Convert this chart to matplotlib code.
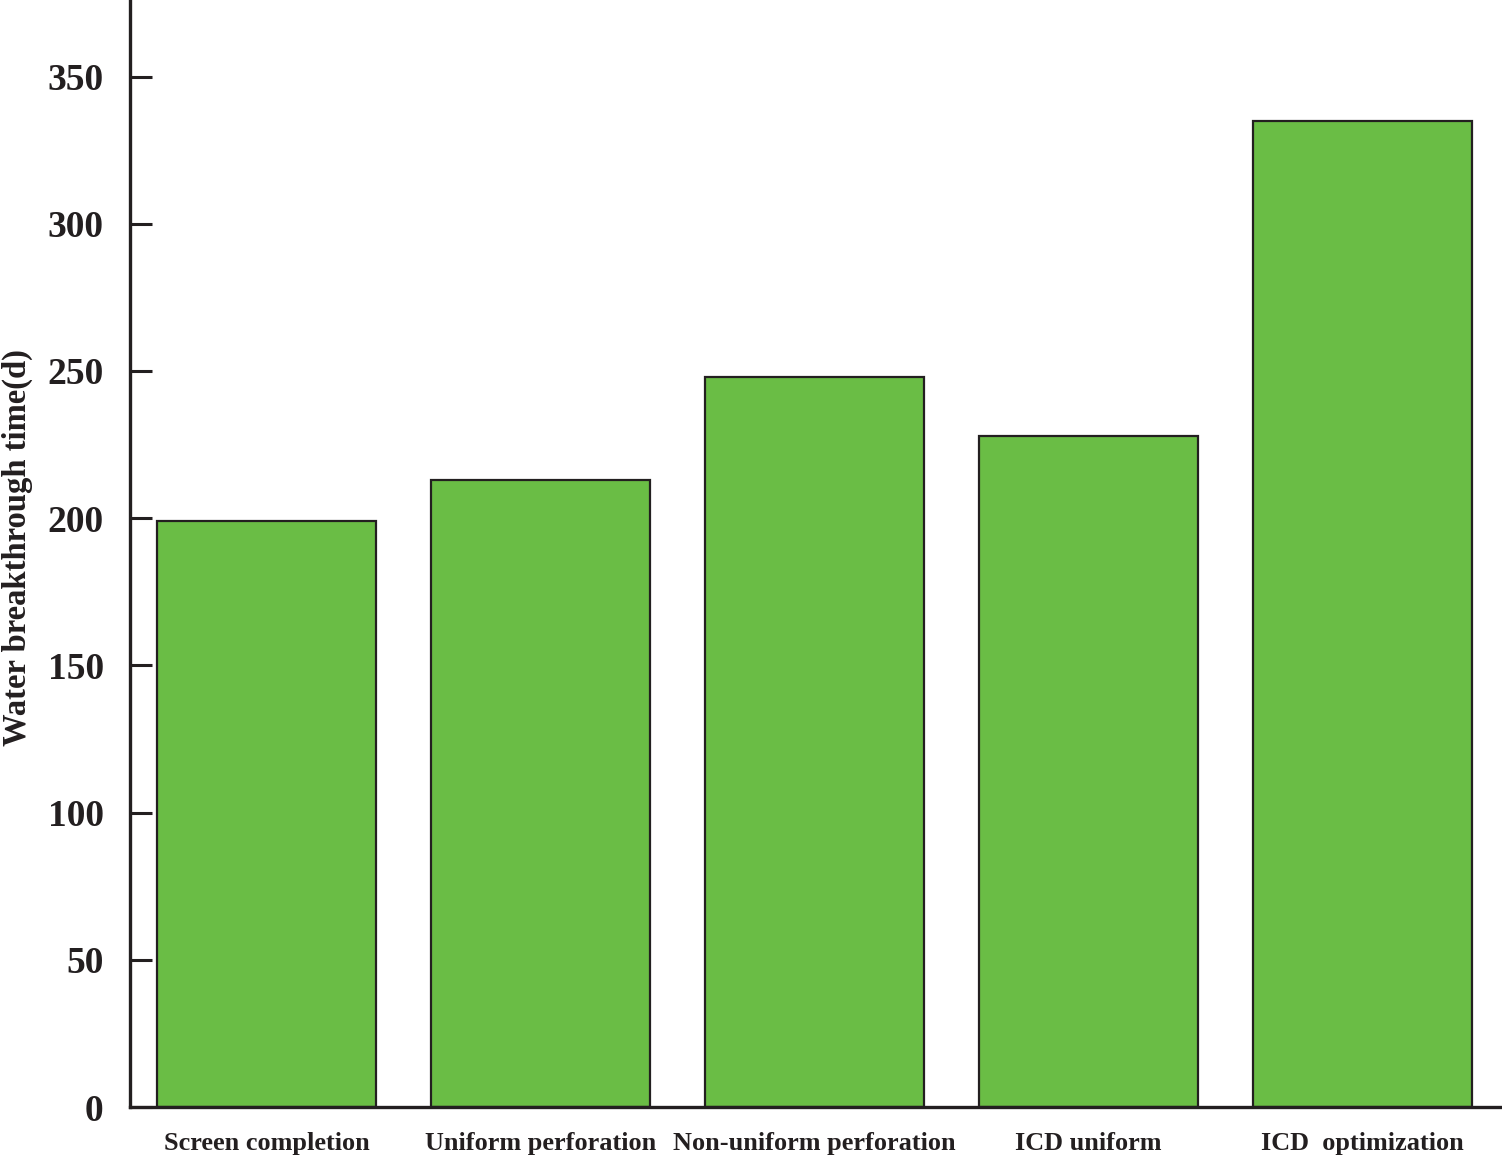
import matplotlib.pyplot as plt

plt.rcParams['font.family'] = 'Liberation Serif'
plt.rcParams['font.weight'] = 'bold'

categories = ['Screen completion', 'Uniform perforation', 'Non-uniform perforation',
              'ICD uniform', 'ICD  optimization']
breakthrough = [199, 213, 248, 228, 335]
yticks = [0, 50, 100, 150, 200, 250, 300, 350]

fig = plt.figure(figsize=(15.02, 11.57), dpi=100)
ax = fig.add_axes([0.0866, 0.0432, 0.9134, 0.9568])

x = range(len(categories))
ax.bar(x, breakthrough, width=0.8, color='#6abd45', edgecolor='#231f20', linewidth=1.6)

ax.set_xlim(-0.498, 4.508)
ax.set_ylim(0, 376)
ax.set_xticks(list(x))
ax.set_xticklabels(categories, fontsize=18.9, fontweight='bold')
ax.set_yticks(yticks)
ax.set_yticklabels([str(t) for t in yticks], fontsize=27, fontweight='bold')

ax.tick_params(axis='x', length=0, pad=18, colors='#231f20')
ax.tick_params(axis='y', direction='in', length=16, width=2.2, pad=19, colors='#231f20')

for s in ['top', 'right']:
    ax.spines[s].set_visible(False)
for s in ['left', 'bottom']:
    ax.spines[s].set_linewidth(2.4)
    ax.spines[s].set_color('#231f20')

ax.set_ylabel('Water breakthrough time(d)', fontsize=23.5, fontweight='bold', color='#231f20')
ax.yaxis.set_label_coords(-0.0705, 0.505)

plt.savefig('out.png', dpi=100)
